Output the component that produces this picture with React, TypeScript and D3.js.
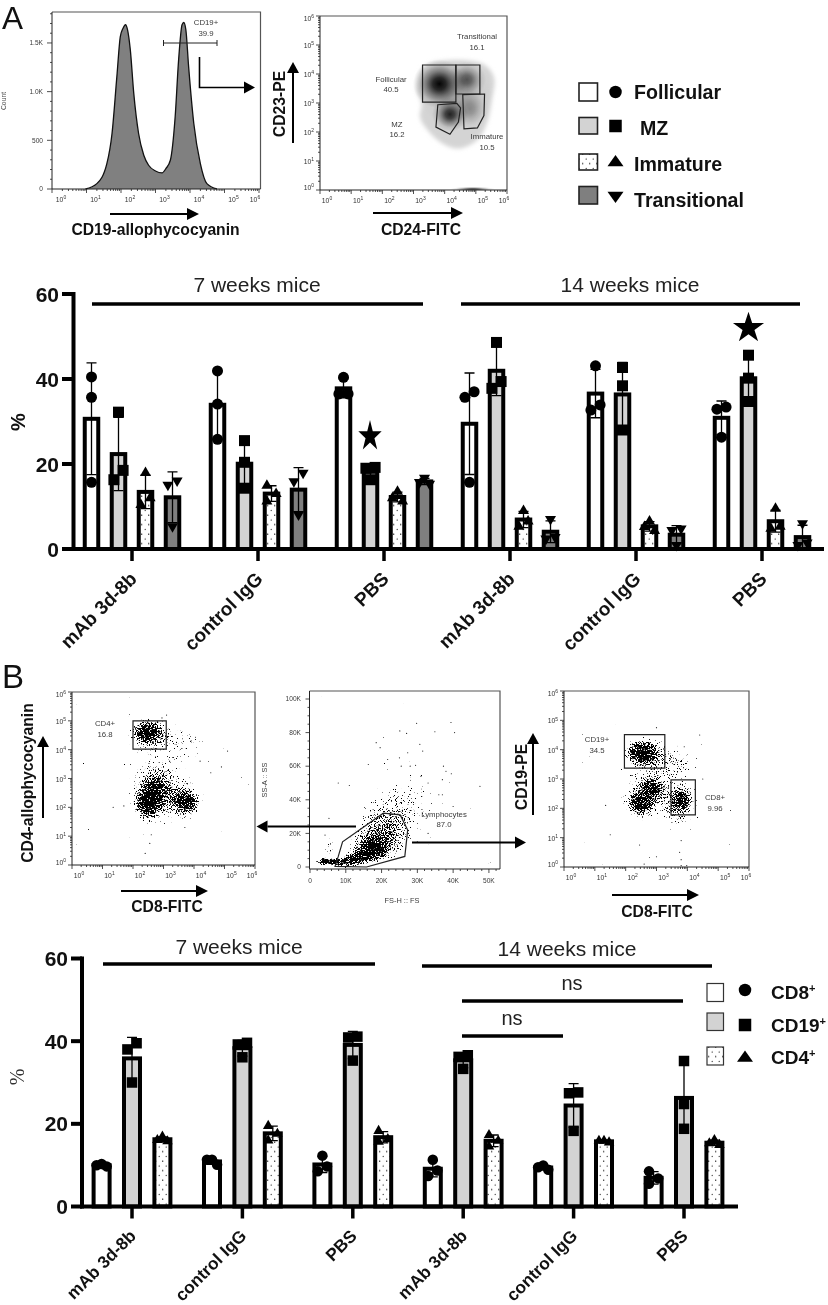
import React from "react";
import * as d3 from "d3";

const categories = ["mAb 3d-8b", "control IgG", "PBS", "mAb 3d-8b", "control IgG", "PBS"];
const follicularPts = [[40.5, 35.7, 15.7], [41.9, 34.1, 25.8], [40.4, 36.5, 36.5], [37, 35.7, 15.7], [43.1, 33.9, 32.7], [33.4, 32.9, 26.3]];
const mzPts = [[32.2, 18.5, 16.3], [25.5, 20.4, 14.3], [19.2, 19, 16.3], [48.6, 39.4, 37.8], [42.7, 38.4, 28], [45.6, 40.2, 34.7]];
const immaturePts = [[17.9, 12, 10.4], [14.9, 13, 11.2], [13.5, 12, 11.2], [9, 6.5, 5.3], [6.5, 5.2, 4.3], [9.5, 5.3, 4.8]];
const transitionalPts = [[16.1, 15.1, 5.3], [17.9, 15.9, 8.1], [16.7, 15.7, 15.3], [7, 2.8, 2.4], [4.8, 4.4, 0.9], [6, 1.5, 0.9]];
const cd8Pts = [[10.3, 10, 9.7], [11.3, 11.3, 10.1], [12.3, 9.7, 8.5], [11.3, 8.7, 7.4], [9.9, 9.5, 8.9], [8.5, 6.8, 5.5]];
const cd19Pts = [[39.5, 38, 30], [39.6, 39.2, 36.1], [41.1, 40.9, 35.3], [36.6, 36.2, 33.3], [27.6, 27.4, 18.3], [35.2, 24.8, 18.8]];
const cd4Pts = [[16.9, 16.1, 15.8], [19.5, 17.6, 16], [18.3, 16.3, 15.7], [17.3, 15.9, 14.5], [15.9, 15.9, 15.5], [16.1, 15.3, 14.9]];
const barTicks = [0, 20, 40, 60];

// ---------- flow cytometry readings
const histLog = [0.97, 1.3, 1.59, 1.74, 1.88, 1.98, 2.06, 2.13, 2.19, 2.27, 2.37, 2.51, 2.66, 2.8, 3, 3.19, 3.3, 3.43, 3.57, 3.67, 3.77, 3.82, 3.88, 3.96, 4.11, 4.3, 4.49, 4.78];
const histCount = [0, 55, 261, 570, 1154, 1566, 1652, 1687, 1635, 1429, 982, 570, 347, 244, 185, 165, 209, 295, 742, 1326, 1687, 1710, 1635, 1257, 673, 261, 55, 0];
const histTicks = [0, 500, 1000, 1500];
const histMinor = d3.range(0, 1801, 100);
const decades = [0, 1, 2, 3, 4, 5, 6];

const follicularGate = [[3.29, 4.31], [4.36, 4.31], [4.36, 3.03], [3.29, 3.03]];
const transitionalGate = [[4.36, 4.31], [5.13, 4.31], [5.13, 3.31], [4.36, 3.31]];
const immatureGate = [[4.58, 3.29], [5.28, 3.31], [5.26, 2.57], [5.05, 2.14], [4.62, 2.11]];
const mzGate = [[3.78, 2.94], [4.39, 2.99], [4.51, 2.83], [4.44, 2.34], [4.17, 1.92], [3.72, 2.17]];
const bcellOutline = [[3.32, 4.23], [3.96, 4.46], [5.24, 4.34], [5.58, 3.89], [5.51, 3.09], [5.35, 2.29], [5.03, 1.71], [4.39, 1.43], [3.85, 1.66], [3.42, 2.11], [3.21, 2.51], [3.26, 2.97], [3.1, 3.49]];
// cluster = centre x, centre y, radius x, radius y, weight, rotation in degrees
const bcellClusters = [[3.83, 3.66, 0.85, 0.85, 1, 0], [4.71, 3.81, 0.62, 0.62, 0.6, 0], [4.17, 2.61, 0.58, 0.6, 0.85, 0], [4.81, 2.8, 0.6, 0.72, 0.32, 0], [4.4, 3.3, 1.2, 1.2, 0.18, 0], [4.9, 0.03, 0.72, 0.09, 0.75, 0]];

const cd4Clusters = [[2.47, 4.62, 0.7, 0.58, 1.4, 0], [2.55, 4.55, 1.2, 1.05, 0.55, 0], [3.6, 4.3, 1.4, 0.95, 0.4, 0], [2.5, 2.15, 0.66, 0.88, 1.6, 0], [2.7, 2.55, 0.55, 0.78, 1.2, 0], [2.8, 2.7, 1.5, 1.9, 0.65, 0], [3.76, 2.15, 0.58, 0.62, 1.25, 0], [3.55, 2.3, 1.15, 1.05, 0.55, 0]];
const cd4Outliers = [[4.2, 3.6], [5.1, 3.95], [4.55, 3.2], [1.35, 2], [2.4, 0.4], [3.2, 3.6], [3.9, 4.3], [3.1, 5.2], [2.95, 5.1], [4.9, 3.4], [1.7, 2.05], [3.7, 1.3], [2.6, 1.05], [2.55, 0.75]];

const scatterClusters = [[14, 6, 10, 7, 1.8, -20], [18, 10.5, 5.5, 10, 1.0, 25], [6.5, 3.2, 7, 2.8, 1.8, 0], [4, 3.2, 1.8, 3.8, 1.4, 0], [18, 14, 12, 15, 0.75, 0], [21, 24, 13, 26, 0.6, 0], [27, 40, 15, 32, 0.36, 0], [5.5, 12, 3, 10, 0.45, 0]];
const scatterOutliers = [[29.8, 85.5], [39.4, 86], [25.1, 81], [27, 79.5], [34.9, 80.5], [40.4, 80], [18.5, 74], [19.6, 71], [30.7, 73], [31.5, 69], [27.3, 68], [25, 65], [21.7, 64], [16.3, 61], [25.5, 60], [28, 60], [29.5, 60.5], [37.3, 60], [38, 57], [39.5, 55.5], [7.9, 50], [11, 48.5], [47.5, 48], [37, 52], [31, 54], [33, 50], [36, 43], [37, 43], [40, 36], [5.3, 29], [4.2, 19], [33, 20], [30, 15]];

const cd19Clusters = [[2.52, 3.88, 0.75, 0.6, 1.45, 0], [2.7, 3.9, 1.25, 0.95, 0.6, 0], [3.6, 3.5, 1.3, 1.1, 0.42, 0], [2.48, 2.15, 0.58, 0.6, 1.45, 0], [2.85, 2.65, 0.55, 0.55, 1.15, 0], [2.7, 2.5, 1.4, 1.55, 0.62, 0], [3.78, 2.3, 0.55, 0.65, 1.15, 0], [3.78, 2.05, 0.9, 1.35, 0.55, 0]];
const cd19Outliers = [[1.5, 1.1], [1.35, 2.1], [2.45, 0.75], [3.0, 0.35], [3.75, 0.5], [3.8, 0.25], [3.8, 0.9], [4.5, 3.0], [4.4, 4.5], [3.0, 4.75], [3.8, 0.05], [3.98, 0.05], [2.6, 0.1], [3.9, 4.1]];

const lymphGate = [[7, 0.4], [15.8, 0], [26.5, 6.3], [27.3, 22], [25.2, 31], [20.5, 32], [9.1, 15], [7.9, 6.3]];
const scatterXTicks = [0, 10, 20, 30, 40, 50];
const scatterYTicks = [0, 20, 40, 60, 80, 100];

const SANS = "'Liberation Sans', Arial, sans-serif";

type Sym = "circle" | "square" | "up" | "down";

const symPath = (kind: Sym, s: number) => {
  const type = kind === "circle" ? d3.symbolCircle : kind === "square" ? d3.symbolSquare : d3.symbolTriangle;
  const size = kind === "circle" ? (Math.PI * s * s) / 4 : kind === "square" ? s * s : (s * s * Math.sqrt(3)) / 4;
  return d3.symbol().type(type).size(size)() as string;
};

function Marker({ kind, x, y, s, sy = 1 }: { kind: Sym; x: number; y: number; s: number; sy?: number }) {
  return <path d={symPath(kind, s)} transform={`translate(${x},${y})${kind === "down" ? " rotate(180)" : ""} scale(1,${sy})`} fill="#000" />;
}

// side-by-side spreading of replicates whose markers would overlap
function spread(vals: number[], y: (v: number) => number, gap: number, d: number) {
  const sorted = [...vals].sort((a, b) => b - a);
  const chains: number[][] = [];
  sorted.forEach((v) => {
    const last = chains[chains.length - 1];
    if (last && y(v) - y(last[last.length - 1]) < gap) last.push(v);
    else chains.push([v]);
  });
  const out: { v: number; dx: number }[] = [];
  chains.forEach((c) => {
    if (c.length === 1) out.push({ v: c[0], dx: 0 });
    else if (c.length === 2) {
      out.push({ v: c[0], dx: d }, { v: c[1], dx: -d });
    } else {
      const tight = y(c[2]) - y(c[0]) < gap;
      const offs = tight ? [0, -d * 1.1, d * 1.1] : [-d, d, -d];
      c.forEach((v, i) => out.push({ v, dx: offs[i] }));
    }
  });
  return out;
}

type Series = { pts: number[][]; fill: string; sym: Sym };

function BarPanel(p: {
  series: Series[]; axisX: number; y0: number; y60: number; xStart: number; groupStep: number; slot: number; barW: number; xEnd: number;
  axisLeft: number; tickLabelX: number; marker: number; catDX: number; catDY: number; catSize: number;
}) {
  const y = d3.scaleLinear().domain([0, 60]).range([p.y0, p.y60]);
  const x0 = d3.scaleBand<number>().domain(d3.range(categories.length)).range([p.xStart - p.groupStep / 2, p.xStart - p.groupStep / 2 + p.groupStep * categories.length]);
  const half = (p.slot * p.series.length) / 2;
  const x1 = d3.scaleBand<number>().domain(d3.range(p.series.length)).range([-half, half]);
  const cx = (g: number, s: number) => (x0(g) as number) + x0.bandwidth() / 2 + (x1(s) as number) + x1.bandwidth() / 2;
  return (
    <g>
      {p.series.map((ser, s) =>
        ser.pts.map((vals, g) => {
          const m = d3.mean(vals) as number;
          const sd = d3.deviation(vals) as number;
          const X = cx(g, s);
          return (
            <g key={`${s}-${g}`}>
              <rect x={X - p.barW / 2} y={y(m)} width={p.barW} height={p.y0 - y(m)} fill={ser.fill} stroke="#000" strokeWidth={4} />
              <path d={`M${X - 5},${y(m + sd)}H${X + 5}M${X},${y(m + sd)}V${y(m - sd)}M${X - 5},${y(m - sd)}H${X + 5}`} fill="none" stroke="#000" strokeWidth={1.3} />
              {spread(vals, y, p.marker - 1, 4.6).map((pt, i) => (
                <Marker key={i} kind={ser.sym} x={X + pt.dx} y={y(pt.v)} s={p.marker} />
              ))}
            </g>
          );
        })
      )}
      <line x1={p.axisX} x2={p.axisX} y1={p.y60 - 2} y2={p.y0 + 2} stroke="#000" strokeWidth={4} />
      <line x1={p.axisX - 2} x2={p.xEnd} y1={p.y0} y2={p.y0} stroke="#000" strokeWidth={4} />
      {barTicks.map((t) => (
        <g key={t}>
          <line x1={p.axisLeft} x2={p.axisX} y1={y(t)} y2={y(t)} stroke="#000" strokeWidth={4} />
          <text x={p.tickLabelX} y={y(t) + 7.5} textAnchor="end" fontFamily={SANS} fontWeight="bold" fontSize={21} fill="#111">{t}</text>
        </g>
      ))}
      {categories.map((c, g) => {
        const X = (x0(g) as number) + x0.bandwidth() / 2;
        return (
          <g key={g}>
            <line x1={X} x2={X} y1={p.y0} y2={p.y0 + 12} stroke="#000" strokeWidth={3.5} />
            <text transform={`translate(${X + p.catDX},${p.y0 + p.catDY}) rotate(-45)`} textAnchor="end" fontFamily={SANS} fontWeight="bold" fontSize={p.catSize} fill="#111">{c}</text>
          </g>
        );
      })}
    </g>
  );
}

function Arrow({ x1, y1, x2, y2, w = 2, hl = 12, hw = 6 }: { x1: number; y1: number; x2: number; y2: number; w?: number; hl?: number; hw?: number }) {
  const a = Math.atan2(y2 - y1, x2 - x1);
  const bx = x2 - hl * Math.cos(a);
  const by = y2 - hl * Math.sin(a);
  const nx = -Math.sin(a) * hw;
  const ny = Math.cos(a) * hw;
  return (
    <g>
      <line x1={x1} y1={y1} x2={bx} y2={by} stroke="#000" strokeWidth={w} />
      <polygon points={`${x2},${y2} ${bx + nx},${by + ny} ${bx - nx},${by - ny}`} fill="#000" />
    </g>
  );
}

const Small = ({ x, y, children, anchor = "middle", size = 7.8 }: any) => (
  <text x={x} y={y} textAnchor={anchor} fontFamily={SANS} fontSize={size} fill="#3a3a3a">{children}</text>
);

const BoldLabel = ({ x, y, children, size = 16, rotate }: any) => (
  <text transform={`translate(${x},${y})${rotate ? ` rotate(${rotate})` : ""}`} textAnchor="middle" fontFamily={SANS} fontWeight="bold" fontSize={size} fill="#111">{children}</text>
);

function Pow({ x, y, k, anchor = "middle" }: { x: number; y: number; k: number; anchor?: string }) {
  return (
    <text x={x} y={y} textAnchor={anchor as any} fontFamily={SANS} fontSize={6.8} fill="#333">
      10<tspan dy={-2.8} fontSize={5}>{k}</tspan>
    </text>
  );
}

function LogFrame({ x, y }: { x: d3.ScaleLogarithmic<number, number>; y: d3.ScaleLogarithmic<number, number> }) {
  const [x0, x1] = x.range();
  const [yB, yT] = y.range();
  const isMajor = (t: number) => Math.abs(Math.log10(t) - Math.round(Math.log10(t))) < 1e-6;
  return (
    <g>
      <path d={`M${x0},${yT}H${x1}V${yB}`} fill="none" stroke="#555" strokeWidth={1.2} />
      <path d={`M${x0},${yT}V${yB}H${x1}`} fill="none" stroke="#222" strokeWidth={1} />
      {x.ticks().map((t) => (
        <line key={t} x1={x(t)} x2={x(t)} y1={yB} y2={yB + (isMajor(t) ? 4 : 2)} stroke="#222" strokeWidth={0.8} />
      ))}
      {y.ticks().map((t) => (
        <line key={t} x1={x0} x2={x0 - (isMajor(t) ? 4 : 2)} y1={y(t)} y2={y(t)} stroke="#222" strokeWidth={0.8} />
      ))}
      {decades.map((k) => (
        <Pow key={k} k={k} x={x(10 ** k) + (k === 6 ? -3 : 7)} y={yB + 13} />
      ))}
      {decades.map((k) => (
        <Pow key={k} k={k} x={x0 - 6} y={y(10 ** k) + (k === 0 ? 0 : k === 6 ? 5 : 3)} anchor="end" />
      ))}
    </g>
  );
}

function Clusters({ data, x, y, grad }: { data: number[][]; x: (v: number) => number; y: (v: number) => number; grad: string }) {
  return (
    <g>
      {data.map(([cx, cy, rx, ry, w, rot], i) => {
        const px = x(cx);
        const py = y(cy);
        const rpx = Math.abs(x(cx + rx) - px);
        const rpy = Math.abs(y(cy + ry) - py);
        return <ellipse key={i} cx={px} cy={py} rx={rpx} ry={rpy} fill={`url(#${grad})`} fillOpacity={Math.min(w, 1)} transform={`rotate(${rot} ${px} ${py})`} />;
      })}
      {data.filter((c) => c[4] > 1).map(([cx, cy, rx, ry, w, rot], i) => {
        const px = x(cx);
        const py = y(cy);
        const rpx = Math.abs(x(cx + rx) - px);
        const rpy = Math.abs(y(cy + ry) - py);
        return <ellipse key={"b" + i} cx={px} cy={py} rx={rpx} ry={rpy} fill={`url(#${grad})`} fillOpacity={w - 1} transform={`rotate(${rot} ${px} ${py})`} />;
      })}
    </g>
  );
}

const Dots = ({ pts, x, y }: { pts: number[][]; x: (v: number) => number; y: (v: number) => number }) => (
  <g>{pts.map(([a, b], i) => <circle key={i} cx={x(a)} cy={y(b)} r={0.6} fill="#222" />)}</g>
);

function Gate({ pts, x, y }: { pts: number[][]; x: (v: number) => number; y: (v: number) => number }) {
  const d = d3.line().x((p: any) => x(p[0])).y((p: any) => y(p[1])).curve(d3.curveLinearClosed)(pts as any) as string;
  return <path d={d} fill="none" stroke="#222" strokeWidth={1.2} />;
}

function Histogram() {
  const x = d3.scaleLog().domain([1, 1e6]).range([52, 259]);
  const y = d3.scaleLinear().domain([0, 1818]).range([189, 12]);
  const pts = histLog.map((l, i) => [l, histCount[i]] as [number, number]);
  const area = d3.area<[number, number]>().x((d) => x(10 ** d[0])).y0(y(0)).y1((d) => y(d[1])).curve(d3.curveMonotoneX)(pts) as string;
  const line = d3.line<[number, number]>().x((d) => x(10 ** d[0])).y((d) => y(d[1])).curve(d3.curveMonotoneX)(pts) as string;
  return (
    <g>
      <path d={area} fill="#808080" />
      <path d={line} fill="none" stroke="#111" strokeWidth={1.3} />
      <path d={`M52,12H260.5V189`} fill="none" stroke="#555" strokeWidth={1.2} />
      <path d={`M52,12V189H260.5`} fill="none" stroke="#222" strokeWidth={1} />
      {x.ticks().map((t) => {
        const maj = Math.abs(Math.log10(t) - Math.round(Math.log10(t))) < 1e-6;
        return <line key={t} x1={x(t)} x2={x(t)} y1={189} y2={189 + (maj ? 4 : 2)} stroke="#222" strokeWidth={0.8} />;
      })}
      {histMinor.map((t) => (
        <line key={t} x1={52} x2={t % 500 === 0 ? 47 : 50} y1={y(t)} y2={y(t)} stroke="#222" strokeWidth={0.8} />
      ))}
      {decades.map((k) => <Pow key={k} k={k} x={x(10 ** k) + (k === 6 ? -4 : 9)} y={202} />)}
      {histTicks.map((t) => (
        <Small key={t} x={43} y={y(t) + 2.2} anchor="end" size={6.6}>{t === 0 ? "0" : t === 500 ? "500" : `${(t / 1000).toFixed(1)}K`}</Small>
      ))}
      <text transform="translate(6,101) rotate(-90)" textAnchor="middle" fontFamily={SANS} fontSize={6.8} fill="#444">Count</text>
      <path d="M163.5,40V46M163.5,43H217M217,40V46" fill="none" stroke="#222" strokeWidth={1} />
      <Small x={206} y={25}>CD19+</Small>
      <Small x={206} y={36}>39.9</Small>
      <path d="M199.5,57V87.5H245" fill="none" stroke="#000" strokeWidth={1.6} />
      <polygon points="255,87.5 244,81.5 244,93.5" fill="#000" />
      <Arrow x1={110} y1={214} x2={199} y2={214} />
      <BoldLabel x={155.5} y={235} size={15.7}>CD19-allophycocyanin</BoldLabel>
    </g>
  );
}

function BcellPlot() {
  const lx = d3.scaleLog().domain([1, 1e6]).range([320, 507]);
  const ly = d3.scaleLog().domain([1, 1e6]).range([190, 16]);
  const x = (v: number) => lx(10 ** v);
  const y = (v: number) => ly(10 ** v);
  const outline = d3.line().x((p: any) => x(p[0])).y((p: any) => y(p[1])).curve(d3.curveCatmullRomClosed)(bcellOutline as any) as string;
  return (
    <g>
      <g clipPath="url(#clipBcell)">
        <path d={outline} fill="#d4d4d4" filter="url(#soft)" />
        <Clusters data={bcellClusters} x={x} y={y} grad="gauss" />
      </g>
      <LogFrame x={lx} y={ly} />
      <Gate pts={follicularGate} x={x} y={y} />
      <Gate pts={transitionalGate} x={x} y={y} />
      <Gate pts={immatureGate} x={x} y={y} />
      <Gate pts={mzGate} x={x} y={y} />
      <Small x={477} y={39}>Transitional</Small><Small x={477} y={50}>16.1</Small>
      <Small x={391} y={82}>Follicular</Small><Small x={391} y={92}>40.5</Small>
      <Small x={397} y={127}>MZ</Small><Small x={397} y={137}>16.2</Small>
      <Small x={487} y={139}>Immature</Small><Small x={487} y={150}>10.5</Small>
      <Arrow x1={293} y1={143} x2={293} y2={62} hl={11} />
      <BoldLabel x={285} y={104} rotate={-90} size={15.7}>CD23-PE</BoldLabel>
      <Arrow x1={373} y1={213} x2={463} y2={213} />
      <BoldLabel x={421} y={235} size={15.7}>CD24-FITC</BoldLabel>
    </g>
  );
}

function Cd4Plot() {
  const lx = d3.scaleLog().domain([1, 1e6]).range([72, 255]);
  const ly = d3.scaleLog().domain([1, 1e6]).range([865, 692]);
  const x = (v: number) => lx(10 ** v);
  const y = (v: number) => ly(10 ** v);
  return (
    <g>
      <g clipPath="url(#clipCd4)"><g filter="url(#stipple)"><Clusters data={cd4Clusters} x={x} y={y} grad="gauss" /></g></g>
      <Dots pts={cd4Outliers} x={x} y={y} />
      <LogFrame x={lx} y={ly} />
      <Gate pts={[[2.0, 5.0], [3.09, 5.0], [3.09, 4.02], [2.0, 4.02]]} x={x} y={y} />
      <Small x={105} y={726}>CD4+</Small><Small x={105} y={736.5}>16.8</Small>
      <Arrow x1={43} y1={818} x2={43} y2={736} hl={11} />
      <BoldLabel x={33} y={783} rotate={-90} size={15.7}>CD4-allophycocyanin</BoldLabel>
      <Arrow x1={121} y1={891} x2={208} y2={891} />
      <BoldLabel x={167} y={912} size={15.7}>CD8-FITC</BoldLabel>
    </g>
  );
}

function ScatterPlot() {
  const x = d3.scaleLinear().domain([0, 53.1]).range([310, 500]);
  const y = d3.scaleLinear().domain([0, 100]).range([867, 699]);
  return (
    <g>
      <g clipPath="url(#clipScatter)"><g filter="url(#stipple)"><Clusters data={scatterClusters} x={x} y={y} grad="gauss" /></g></g>
      <Dots pts={scatterOutliers} x={x} y={y} />
      <path d="M309.5,691H500V869" fill="none" stroke="#555" strokeWidth={1.2} />
      <path d="M309.5,691V869H500" fill="none" stroke="#222" strokeWidth={1} />
      {d3.range(0, 53, 2).map((t) => (
        <line key={t} x1={x(t)} x2={x(t)} y1={869} y2={869 + (t % 10 === 0 ? 4 : 2)} stroke="#222" strokeWidth={0.8} />
      ))}
      {d3.range(0, 101, 5).map((t) => (
        <line key={t} x1={309.5} x2={309.5 - (t % 20 === 0 ? 4 : 2)} y1={y(t)} y2={y(t)} stroke="#222" strokeWidth={0.8} />
      ))}
      {scatterXTicks.map((t) => <Small key={t} x={x(t)} y={883} size={6.6}>{t === 0 ? "0" : `${t}K`}</Small>)}
      {scatterYTicks.map((t) => <Small key={t} x={301} y={y(t) + 2.2} anchor="end" size={6.6}>{t === 0 ? "0" : `${t}K`}</Small>)}
      <Gate pts={lymphGate} x={x} y={y} />
      <Small x={444} y={817}>Lymphocytes</Small><Small x={444} y={827}>87.0</Small>
      <Small x={402} y={903} size={7.4}>FS-H :: FS</Small>
      <text transform="translate(267,780) rotate(-90)" textAnchor="middle" fontFamily={SANS} fontSize={7.4} fill="#3a3a3a">SS-A :: SS</text>
      <Arrow x1={356} y1={826.5} x2={256.5} y2={826.5} hl={11} />
      <Arrow x1={412} y1={842.5} x2={526} y2={842.5} hl={11} />
    </g>
  );
}

function Cd19Plot() {
  const lx = d3.scaleLog().domain([1, 1e6]).range([564, 749]);
  const ly = d3.scaleLog().domain([1, 1e6]).range([867, 691]);
  const x = (v: number) => lx(10 ** v);
  const y = (v: number) => ly(10 ** v);
  return (
    <g>
      <g clipPath="url(#clipCd19)"><g filter="url(#stipple)"><Clusters data={cd19Clusters} x={x} y={y} grad="gauss" /></g></g>
      <Dots pts={cd19Outliers} x={x} y={y} />
      <LogFrame x={lx} y={ly} />
      <Gate pts={[[1.96, 4.51], [3.27, 4.51], [3.27, 3.37], [1.96, 3.37]]} x={x} y={y} />
      <Gate pts={[[3.47, 2.97], [4.26, 2.97], [4.26, 1.78], [3.47, 1.78]]} x={x} y={y} />
      <Small x={597} y={742}>CD19+</Small><Small x={597} y={752.5}>34.5</Small>
      <Small x={715} y={800}>CD8+</Small><Small x={715} y={811}>9.96</Small>
      <Arrow x1={533} y1={815} x2={533} y2={733} hl={11} />
      <BoldLabel x={527} y={777} rotate={-90} size={15.7}>CD19-PE</BoldLabel>
      <Arrow x1={612} y1={895} x2={699} y2={895} />
      <BoldLabel x={657} y={917} size={15.7}>CD8-FITC</BoldLabel>
    </g>
  );
}

const LEG_A: { label: string; fill: string; sym: Sym; box: number; my: number; by: number; tx: number; h: number }[] = [
  { label: "Follicular", fill: "#fff", sym: "circle", box: 83, my: 92, by: 99, tx: 634, h: 18 },
  { label: "MZ", fill: "#d3d3d3", sym: "square", box: 117.5, my: 126, by: 135, tx: 640, h: 16.5 },
  { label: "Immature", fill: "url(#dots)", sym: "up", box: 154, my: 162.5, by: 171, tx: 634, h: 16 },
  { label: "Transitional", fill: "#7f7f7f", sym: "down", box: 186.5, my: 195.5, by: 207, tx: 634, h: 17.5 },
];
const LEG_B: { label: string; fill: string; sym: Sym; box: number; my: number; by: number; h: number }[] = [
  { label: "CD8", fill: "#fff", sym: "circle", box: 983.5, my: 990, by: 999, h: 18 },
  { label: "CD19", fill: "#d3d3d3", sym: "square", box: 1013, my: 1025, by: 1032, h: 17.5 },
  { label: "CD4", fill: "url(#dots)", sym: "up", box: 1047, my: 1058, by: 1064, h: 18 },
];

export default function App() {
  const star = d3.symbol().type(d3.symbolStar).size(300)() as string;
  return (
    <svg width={828} height={1305} viewBox="0 0 828 1305" style={{ position: "absolute", left: 0, top: 0, background: "#fff" }}>
      <defs>
        <pattern id="dots" width={7} height={9.5} patternUnits="userSpaceOnUse">
          <rect width={7} height={9.5} fill="#fff" />
          <circle cx={1.7} cy={2.2} r={0.7} fill="#111" />
          <circle cx={5.2} cy={7} r={0.7} fill="#111" />
        </pattern>
        <radialGradient id="gauss">
          <stop offset="0" stopColor="#000" stopOpacity={0.98} />
          <stop offset="0.25" stopColor="#000" stopOpacity={0.8} />
          <stop offset="0.5" stopColor="#000" stopOpacity={0.42} />
          <stop offset="0.75" stopColor="#000" stopOpacity={0.12} />
          <stop offset="1" stopColor="#000" stopOpacity={0} />
        </radialGradient>
        <filter id="soft" x="-10%" y="-10%" width="120%" height="120%"><feGaussianBlur stdDeviation={2} /></filter>
        <filter id="page" filterUnits="userSpaceOnUse" x={0} y={0} width={828} height={1305} colorInterpolationFilters="sRGB"><feGaussianBlur stdDeviation={0.35} /></filter>
        {/* dense populations are shown as a stippled density texture, not as individually read events */}
        <filter id="stipple" filterUnits="userSpaceOnUse" x={0} y={660} width={828} height={240} colorInterpolationFilters="sRGB">
          <feTurbulence type="fractalNoise" baseFrequency={0.85} numOctaves={2} seed={7} result="n" />
          <feColorMatrix in="n" type="matrix" values="0 0 0 0 0  0 0 0 0 0  0 0 0 0 0  1 0 0 0 0" result="na" />
          <feComposite in="SourceAlpha" in2="na" operator="arithmetic" k1={0} k2={1} k3={1.8} k4={-1.52} result="sum" />
          <feComponentTransfer in="sum"><feFuncA type="linear" slope={9} intercept={0} /></feComponentTransfer>
        </filter>
        <clipPath id="clipBcell"><rect x={320} y={16} width={187} height={174} /></clipPath>
        <clipPath id="clipCd4"><rect x={72} y={692} width={183} height={173} /></clipPath>
        <clipPath id="clipScatter"><rect x={310} y={691} width={190} height={178} /></clipPath>
        <clipPath id="clipCd19"><rect x={564} y={691} width={185} height={176} /></clipPath>
      </defs>

      <g filter="url(#page)">
        <rect width={828} height={1305} fill="#fff" />
        <text x={2} y={28.5} fontFamily={SANS} fontSize={31.5} fill="#111">A</text>
        <text x={2} y={688} fontFamily={SANS} fontSize={33} fill="#111">B</text>

        <Histogram />
        <BcellPlot />

        {LEG_A.map((l) => (
          <g key={l.label}>
            <rect x={579} y={l.box} width={18.5} height={l.h} fill={l.fill} stroke="#222" strokeWidth={1.6} />
            <Marker kind={l.sym} x={615.5} y={l.my} s={l.sym === "up" || l.sym === "down" ? 16 : 12.5} sy={l.sym === "up" || l.sym === "down" ? 0.8 : 1} />
            <text x={l.tx} y={l.by} fontFamily={SANS} fontWeight="bold" fontSize={19.6} fill="#111">{l.label}</text>
          </g>
        ))}

        <text x={257} y={292} textAnchor="middle" fontFamily={SANS} fontSize={21} fill="#222">7 weeks mice</text>
        <text x={630} y={292} textAnchor="middle" fontFamily={SANS} fontSize={21} fill="#222">14 weeks mice</text>
        <line x1={92} x2={423} y1={304} y2={304} stroke="#000" strokeWidth={3.4} />
        <line x1={461} x2={800} y1={304} y2={304} stroke="#000" strokeWidth={3.4} />
        <text transform="translate(25,422) rotate(-90)" textAnchor="middle" fontFamily={SANS} fontWeight="bold" fontSize={20} fill="#111">%</text>

        <BarPanel
          series={[
            { pts: follicularPts, fill: "#fff", sym: "circle" },
            { pts: mzPts, fill: "#d3d3d3", sym: "square" },
            { pts: immaturePts, fill: "url(#dots)", sym: "up" },
            { pts: transitionalPts, fill: "#7f7f7f", sym: "down" },
          ]}
          axisX={73.5} y0={549} y60={294} xStart={132} groupStep={126} slot={27} barW={13.5} xEnd={824}
          axisLeft={62} tickLabelX={59} marker={11} catDX={6} catDY={31} catSize={19}
        />
        <path d={star} transform="translate(370,436.3) scale(0.75,1)" fill="#000" />
        <path d={star} transform="translate(748.5,328)" fill="#000" />

        <Cd4Plot />
        <ScatterPlot />
        <Cd19Plot />

        <text x={239} y={954} textAnchor="middle" fontFamily={SANS} fontSize={21} fill="#222">7 weeks mice</text>
        <text x={567} y={956} textAnchor="middle" fontFamily={SANS} fontSize={21} fill="#222">14 weeks mice</text>
        <line x1={103} x2={375} y1={964} y2={964} stroke="#000" strokeWidth={3.4} />
        <line x1={422} x2={712} y1={966} y2={966} stroke="#000" strokeWidth={3.4} />
        <line x1={462} x2={683} y1={1001} y2={1001} stroke="#000" strokeWidth={3.4} />
        <line x1={462} x2={563} y1={1036} y2={1036} stroke="#000" strokeWidth={3.4} />
        <text x={572} y={990} textAnchor="middle" fontFamily={SANS} fontSize={20} fill="#222">ns</text>
        <text x={512} y={1025} textAnchor="middle" fontFamily={SANS} fontSize={20} fill="#222">ns</text>
        <text transform="translate(24,1077) rotate(-90)" textAnchor="middle" fontFamily="'Liberation Serif', serif" fontSize={20} fill="#333">%</text>

        <BarPanel
          series={[
            { pts: cd8Pts, fill: "#fff", sym: "circle" },
            { pts: cd19Pts, fill: "#d3d3d3", sym: "square" },
            { pts: cd4Pts, fill: "url(#dots)", sym: "up" },
          ]}
          axisX={82} y0={1206.5} y60={958.5} xStart={132} groupStep={110.4} slot={30.4} barW={16} xEnd={738}
          axisLeft={71} tickLabelX={68} marker={10.5} catDX={5} catDY={30.5} catSize={17.3}
        />

        {LEG_B.map((l) => (
          <g key={l.label}>
            <rect x={707} y={l.box} width={16.5} height={l.h} fill={l.fill} stroke="#333" strokeWidth={1.2} />
            <Marker kind={l.sym} x={745} y={l.my} s={l.sym === "up" ? 16 : 12.5} sy={l.sym === "up" ? 0.8 : 1} />
            <text x={771} y={l.by} fontFamily={SANS} fontWeight="bold" fontSize={19} fill="#111">
              {l.label}<tspan dy={-7} fontSize={11}>+</tspan>
            </text>
          </g>
        ))}
      </g>
    </svg>
  );
}
